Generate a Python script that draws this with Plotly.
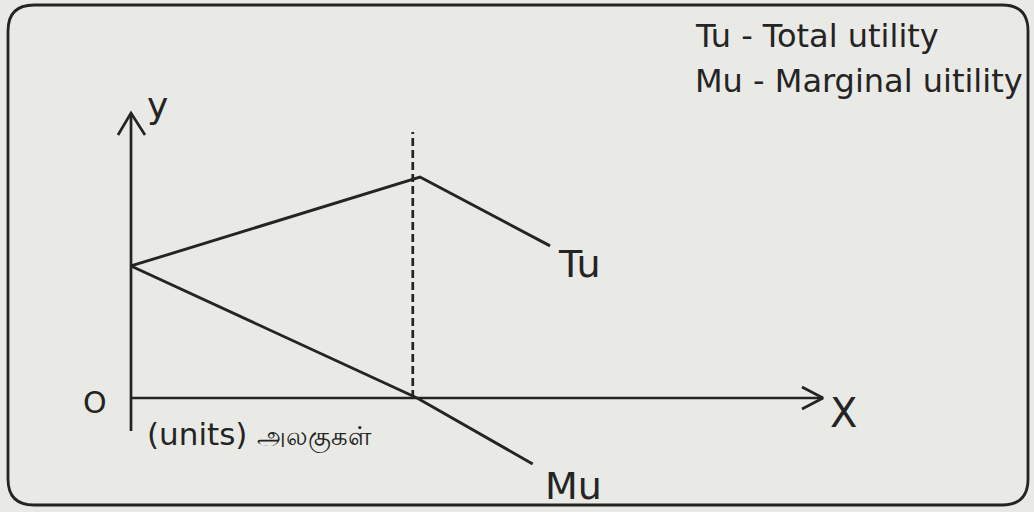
import plotly.graph_objects as go

# quantity consumed (units) and utility values
tu_quantity = [0, 10, 14.5]
total_utility = [4.6, 7.7, 5.3]
mu_quantity = [0, 9.9, 13.9]
marginal_utility = [4.6, 0, -2.3]
max_tu_quantity = 9.75  # dashed line where Mu = 0 / Tu is max

legend_lines = ["Tu - Total utility", "Mu - Marginal uitility"]

W, H = 1034, 512
ox, oy = 131, 398      # pixel position of origin
sx, sy = 28.9, 28.7    # pixels per unit
ink = "#242424"
bg = "#e9e9e5"


def dx(px):
    return (px - ox) / sx


def dy(py):
    return (oy - py) / sy


fig = go.Figure()

# Tu and Mu curves
fig.add_trace(go.Scatter(x=tu_quantity, y=total_utility, mode="lines",
                         line=dict(color=ink, width=2.9), name="Tu"))
fig.add_trace(go.Scatter(x=mu_quantity, y=marginal_utility, mode="lines",
                         line=dict(color=ink, width=2.9), name="Mu"))

# dashed line at the maximum of Tu
fig.add_trace(go.Scatter(x=[max_tu_quantity, max_tu_quantity], y=[0, dy(132)],
                         mode="lines", line=dict(color=ink, width=2.7, dash="8px,4px")))

# axes with open arrow heads
x_end, y_end = dx(823), dy(113)
fig.add_trace(go.Scatter(x=[0, x_end], y=[0, 0], mode="lines",
                         line=dict(color=ink, width=2.7)))
fig.add_trace(go.Scatter(x=[0, 0], y=[dy(431), y_end], mode="lines",
                         line=dict(color=ink, width=2.7)))
fig.add_trace(go.Scatter(x=[dx(802), x_end, dx(802)], y=[dy(387), 0, dy(409)],
                         mode="lines", line=dict(color=ink, width=2.7)))
fig.add_trace(go.Scatter(x=[dx(118), 0, dx(145)], y=[dy(135), y_end, dy(135)],
                         mode="lines", line=dict(color=ink, width=2.7)))

font = "DejaVu Sans"


def label(text, px, py, size, anchor="center"):
    fig.add_annotation(x=dx(px), y=dy(py), text=text, showarrow=False,
                       xanchor=anchor, yanchor="middle",
                       font=dict(family=font, size=size, color=ink))


label("y", 157, 105, 36)
label("O", 95, 402, 30)
label("X", 843, 413, 40)
label("Tu", 579, 264, 38)
label("Mu", 573, 486, 38)
label("(units) <span style='font-size:26px'>அலகுகள்</span>", 145, 434, 31, "left")

for i, t in enumerate(legend_lines):
    fig.add_annotation(x=693 / W, y=1 - (36 + 45 * i) / H, xref="paper", yref="paper",
                       text=t, showarrow=False, xanchor="left", yanchor="middle",
                       font=dict(family=font, size=32, color=ink))

# rounded frame
x0, x1, y0, y1, r = 8, 1028, 5, 505, 26


def p(px, py):
    return f"{px / W:.5f},{1 - py / H:.5f}"


frame = (f"M {p(x0 + r, y0)} L {p(x1 - r, y0)} Q {p(x1, y0)} {p(x1, y0 + r)} "
         f"L {p(x1, y1 - r)} Q {p(x1, y1)} {p(x1 - r, y1)} "
         f"L {p(x0 + r, y1)} Q {p(x0, y1)} {p(x0, y1 - r)} "
         f"L {p(x0, y0 + r)} Q {p(x0, y0)} {p(x0 + r, y0)} Z")
fig.add_shape(type="path", path=frame, xref="paper", yref="paper",
              line=dict(color=ink, width=2.8))

fig.update_layout(
    width=W, height=H, margin=dict(l=0, r=0, t=0, b=0),
    paper_bgcolor=bg, plot_bgcolor=bg, showlegend=False,
    xaxis=dict(range=[dx(0), dx(W)], visible=False, fixedrange=True),
    yaxis=dict(range=[dy(H), dy(0)], visible=False, fixedrange=True),
)

fig.write_html("out.html", config={"displayModeBar": False},
               post_script="document.body.style.margin='0';document.body.style.overflow='hidden';")
